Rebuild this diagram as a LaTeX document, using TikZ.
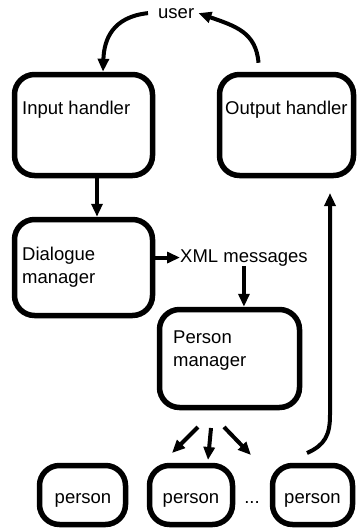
\documentclass[tikz,border=0pt]{standalone}
\usepackage{fontspec}
\setmainfont{Liberation Sans}
\usetikzlibrary{arrows.meta}
\begin{document}
\begin{tikzpicture}[x=1pt,y=-1pt,
  box/.style={draw, line width=5.5pt, rounded corners=20pt, inner sep=0pt},
  lbl/.style={font=\fontsize{18.5}{23}\selectfont, inner sep=0pt, anchor=base west, align=left},
  arr/.style={line width=4pt, -{Triangle[length=13pt,width=11pt]}}
]
\useasboundingbox (0,0) rectangle (358,528);
% boxes
\node[box, minimum width=138pt, minimum height=101pt] (ih) at (83.5,125) {};
\node[box, minimum width=134pt, minimum height=101pt] (oh) at (286.5,125) {};
\node[box, minimum width=138pt, minimum height=96pt] (dlg) at (83.5,267.5) {};
\node[box, minimum width=140pt, minimum height=98pt] (pm) at (229.5,358.5) {};
\node[box, minimum width=86pt, minimum height=59pt] (p1) at (82.5,495) {};
\node[box, minimum width=83pt, minimum height=59pt] (p2) at (191,495) {};
\node[box, minimum width=80pt, minimum height=59pt] (p3) at (312.5,495) {};
% texts
\node[lbl] (iht) at (22,114) {Input handler};
\node[lbl] (oht) at (225,114) {Output handler};
\node[lbl] (dlgt) at (22,283) {Dialogue\\manager};
\node[lbl] (pmt) at (173,366) {Person\\manager};
\node[lbl] (user) at (158,18) {user};
\node[lbl] (xml) at (180,262) {XML messages};
\node[lbl, anchor=base] (p1t) at (83,503) {person};
\node[lbl, anchor=base] (p2t) at (191,503) {person};
\node[lbl, anchor=base] (p3t) at (312.5,503) {person};
\node[lbl, anchor=base] (dots) at (252,503) {...};
% coordinates
\coordinate (a1s) at (198,427); \coordinate (a1e) at (172,453);
\coordinate (a2s) at (211,428); \coordinate (a2e) at (208,460);
\coordinate (a3s) at (224,427); \coordinate (a3e) at (251,455);
\coordinate (ret) at (307,453);
\coordinate (rettop) at (330,193);
% connectors
\draw[arr] ([xshift=-10pt]user.west) .. controls (112,17) and (104,40) .. ([xshift=19.5pt]ih.north);
\draw[arr] ([shift={(-28,-9)}]oh.north) .. controls (256,32) and (235,26) .. ([xshift=4pt]user.east);
\draw[arr] ([xshift=13.5pt]ih.south) -- ([xshift=13.5pt]dlg.north);
\draw[arr] (dlg.east |- xml.west) -- (xml.west);
\draw[arr] (xml.south) -- (xml.south |- pm.north);
\draw[arr] (a1s) -- (a1e);
\draw[arr] (a2s) -- (a2e);
\draw[arr] (a3s) -- (a3e);
\draw[arr] (ret) .. controls (325,445) and (330,435) .. (330,415) -- (rettop);
\end{tikzpicture}
\end{document}
